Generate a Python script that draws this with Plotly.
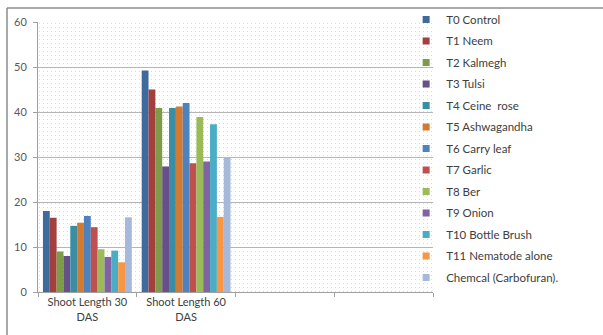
import base64
import plotly.graph_objects as go

# Categories (two measured stages plus two empty slots on the axis)
categories = ["Shoot Length 30<br>DAS", "Shoot Length 60<br>DAS", " ", "  "]

treatments = [
    "T0 Control", "T1 Neem", "T2 Kalmegh", "T3 Tulsi", "T4 Ceine  rose",
    "T5 Ashwagandha", "T6 Carry leaf", "T7 Garlic", "T8 Ber", "T9 Onion",
    "T10 Bottle Brush", "T11 Nematode alone", "Chemcal (Carbofuran).",
]

shoot_30_das = [18.0, 16.5, 9.0, 8.0, 14.7, 15.4, 16.9, 14.4, 9.5, 7.8, 9.2, 6.6, 16.6]
shoot_60_das = [49.2, 45.0, 40.9, 27.9, 40.9, 41.2, 42.0, 28.6, 38.9, 29.0, 37.3, 16.7, 30.0]

colors = [
    "#3F6A9E", "#A33F3C", "#7E9B47", "#674F87", "#3A8DA3", "#D47A30",
    "#4F81BD", "#C0504D", "#9BBB59", "#8064A2", "#4BACC6", "#F79646", "#A7B9DB",
]

FONT = "Lato, 'Open Sans', sans-serif"

fig = go.Figure()
for name, v30, v60, col in zip(treatments, shoot_30_das, shoot_60_das, colors):
    fig.add_trace(go.Bar(
        x=categories[:2], y=[v30, v60], name=name,
        marker=dict(color=col, line=dict(width=0)),
        legendgroup=name, showlegend=False,
    ))
    # small square legend key
    fig.add_trace(go.Scatter(
        x=[None], y=[None], mode="markers", name=name,
        marker=dict(symbol="square", size=7, color=col),
        legendgroup=name, showlegend=True,
    ))

# Dotted fill for the plot area
W, H = 395, 270
svg = (
    f'<svg xmlns="http://www.w3.org/2000/svg" width="{W}" height="{H}">'
    '<defs><pattern id="d" width="4" height="4" patternUnits="userSpaceOnUse">'
    '<rect x="1" y="1" width="1" height="1" fill="#D2DBEC"/></pattern></defs>'
    f'<rect width="{W}" height="{H}" fill="url(#d)"/></svg>'
)
src = "data:image/svg+xml;base64," + base64.b64encode(svg.encode()).decode()

fig.update_layout(
    width=603, height=335, autosize=False,
    margin=dict(l=38, r=170, t=22, b=43, autoexpand=False),
    paper_bgcolor="white", plot_bgcolor="white",
    font=dict(family=FONT, size=11, color="#404040"),
    barmode="group", bargap=0.1, bargroupgap=0,
    images=[dict(source=src, xref="paper", yref="paper", x=0, y=1,
                 sizex=1, sizey=1, sizing="stretch", layer="below",
                 xanchor="left", yanchor="top")],
    legend=dict(
        x=0.932, xanchor="left", y=1.063, yanchor="top",
        bgcolor="rgba(0,0,0,0)", font=dict(size=11.5, color="#404040", family=FONT),
        tracegroupgap=2.5, itemwidth=30, maxheight=320,
    ),
    shapes=[
        dict(type="line", xref="paper", yref="paper", x0=-0.0785, x1=1.45,
             y0=1.0519, y1=1.0519, line=dict(color="#8C8C8C", width=1.5)),
        dict(type="line", xref="paper", yref="paper", x0=-0.0785, x1=-0.0785,
             y0=-0.2, y1=1.0519, line=dict(color="#8C8C8C", width=1.5)),
    ],
)

fig.update_xaxes(
    type="category", categoryorder="array", categoryarray=categories,
    range=[-0.5, 3.5], tickson="boundaries", ticks="outside", ticklen=4,
    tickcolor="#A0A0A0", showline=True, linecolor="#A0A0A0", linewidth=1,
    showgrid=False, tickfont=dict(size=11, color="#404040"),
)
fig.update_yaxes(
    range=[0, 60], dtick=10, ticks="outside", ticklen=4, tickcolor="#A0A0A0",
    showline=True, linecolor="#A0A0A0", linewidth=1,
    showgrid=True, gridcolor="#B5B5B5", gridwidth=1, zeroline=False,
    tickfont=dict(size=11, color="#595959"), ticklabelstandoff=4,
)

fig.write_html("out.html")
